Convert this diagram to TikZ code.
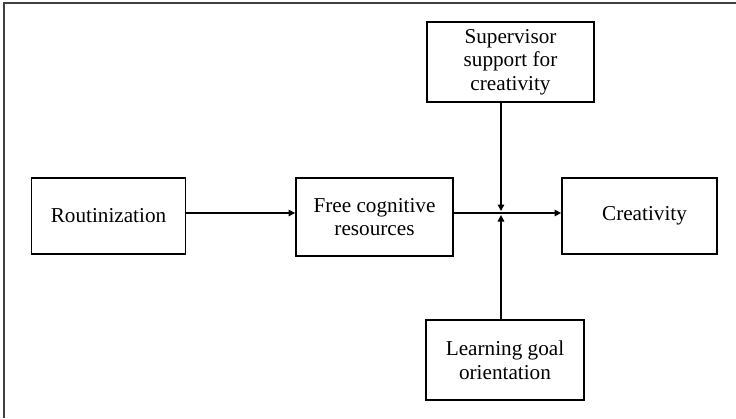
\documentclass[tikz,border=0pt]{standalone}
\usepackage{fontspec}
\setmainfont{Liberation Serif}
\usetikzlibrary{arrows.meta}
\begin{document}
\begin{tikzpicture}[x=1pt,y=-1pt,
  box/.style={draw=black,line width=1.8pt,rectangle,align=center,inner sep=0pt,
    font=\fontsize{21.2}{23.6}\selectfont},
  arr/.style={line width=1.4pt,-{Triangle[length=6.5pt,width=6.5pt]}},
  frame/.style={line width=1.6pt,draw=black!75}]
\useasboundingbox (0,0) rectangle (736,418);
\draw[frame] (4,418) -- (4,3) -- (736,3);
\node[box,minimum width=154pt,minimum height=76pt] (rout) at (108.5,216) {Routinization};
\node[box,minimum width=157pt,minimum height=78pt] (free) at (374.5,217) {Free cognitive\\resources};
\node[box,minimum width=155pt,minimum height=76pt] (creat) at (639.5,216) {\hspace*{10pt}Creativity};
\node[box,minimum width=167pt,minimum height=80pt] (sup) at (510.5,62) {Supervisor\\support for\\creativity};
\node[box,minimum width=158pt,minimum height=80pt] (learn) at (505,360) {Learning goal\\orientation};
\coordinate (j) at (501,213);
\coordinate (ja) at (501,211);
\coordinate (jb) at (501,215);
\draw[arr] (rout.east |- j) -- (free.west |- j);
\draw[arr] (free.east |- j) -- (creat.west |- j);
\draw[arr] (sup.south -| j) -- (ja);
\draw[arr] (learn.north -| j) -- (jb);
\end{tikzpicture}
\end{document}
